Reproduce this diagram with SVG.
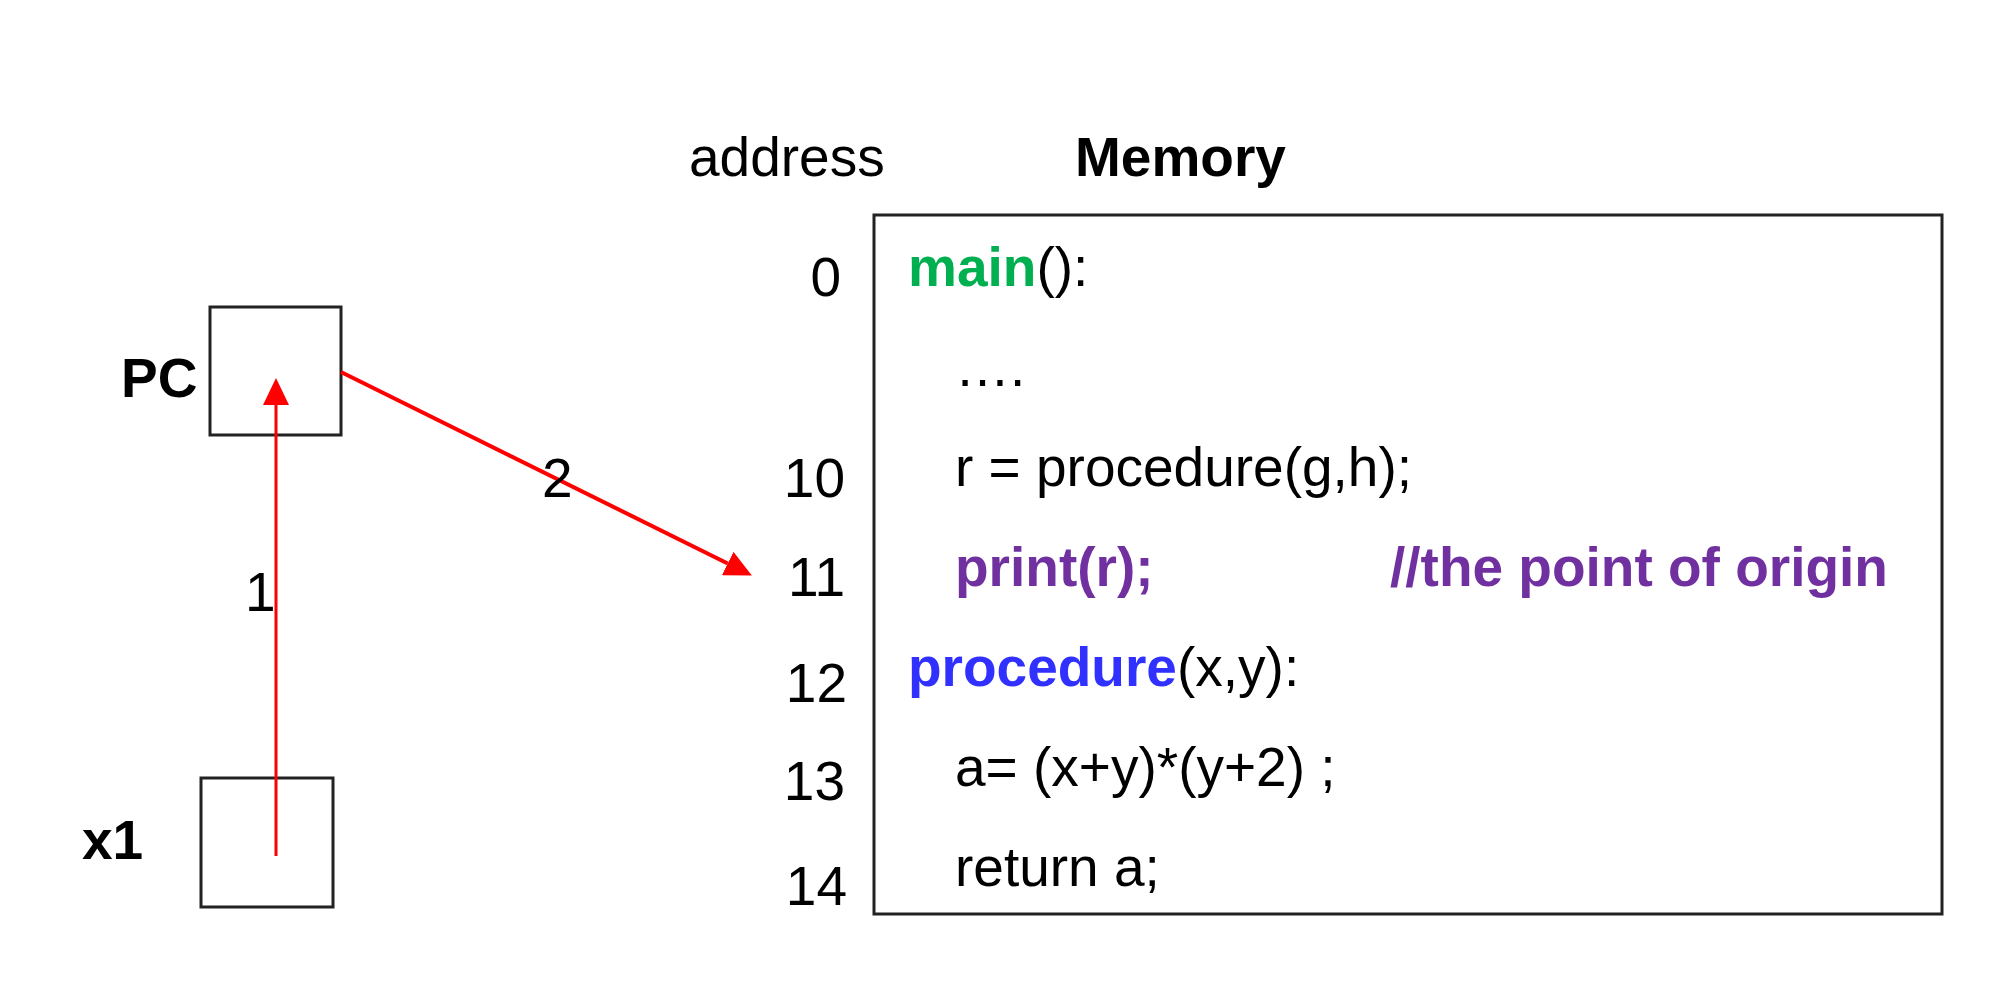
<svg xmlns="http://www.w3.org/2000/svg" width="2000" height="989" viewBox="0 0 2000 989">
<style>
text{font-family:"Liberation Sans",Arial,sans-serif;font-size:55px;fill:#000}
.b{font-weight:bold}
.addr{text-anchor:end}
.box{fill:#fff;stroke:#222;stroke-width:3}
.g{fill:#00B050;font-weight:bold}
.bl{fill:#3030FF;font-weight:bold}
.pu{fill:#7030A0;font-weight:bold}
.arrow{stroke:#FF0000;stroke-width:3;fill:none}
</style>
<defs>
<marker id="ah" viewBox="0 0 27 26" refX="0" refY="13" markerWidth="27" markerHeight="26" markerUnits="userSpaceOnUse" orient="auto">
<path d="M0,0 L27,13 L0,26 Z" fill="#FF0000"/>
</marker>
</defs>
<rect width="2000" height="989" fill="#fff"/>
<g id="headers">
<text x="689" y="176">address</text>
<text x="1075" y="176" class="b">Memory</text>
</g>
<g id="memory">
<rect x="874" y="215" width="1068" height="699" class="box"/>
<text x="908" y="286"><tspan class="g">main</tspan>():</text>
<text x="955" y="386">….</text>
<text x="955" y="486">r = procedure(g,h);</text>
<text x="955" y="586" class="pu">print(r);</text>
<text x="1390" y="586" class="pu">//the point of origin</text>
<text x="908" y="686"><tspan class="bl">procedure</tspan>(x,y):</text>
<text x="955" y="786">a= (x+y)*(y+2) ;</text>
<text x="955" y="886">return a;</text>
</g>
<g id="addresses">
<text x="841" y="296" class="addr">0</text>
<text x="845" y="497" class="addr">10</text>
<text x="845" y="596" class="addr">11</text>
<text x="847" y="702" class="addr">12</text>
<text x="845" y="800" class="addr">13</text>
<text x="847" y="905" class="addr">14</text>
</g>
<g id="pc">
<rect x="210" y="307" width="131" height="128" class="box"/>
<text x="121" y="397" class="b">PC</text>
</g>
<g id="x1">
<rect x="201" y="778" width="132" height="129" class="box"/>
<text x="82" y="859" class="b">x1</text>
</g>
<g id="connectors">
<line x1="276" y1="856" x2="276" y2="405" class="arrow" marker-end="url(#ah)"/>
<text x="245" y="611">1</text>
<line x1="341" y1="372" x2="727.7" y2="563.5" class="arrow" stroke-width="4" style="stroke-width:4" marker-end="url(#ah)"/>
<text x="542" y="497">2</text>
</g>
</svg>
